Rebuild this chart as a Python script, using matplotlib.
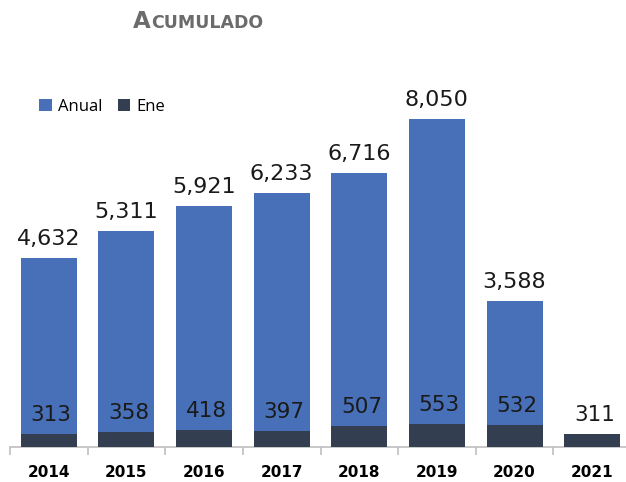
import matplotlib
matplotlib.use("Agg")
import matplotlib.pyplot as plt
import numpy as np

years = ["2014", "2015", "2016", "2017", "2018", "2019", "2020", "2021"]
anual = [4632, 5311, 5921, 6233, 6716, 8050, 3588, None]
ene = [313, 358, 418, 397, 507, 553, 532, 311]

c_anual = "#4770b8"
c_ene = "#333f50"

fig = plt.figure(figsize=(6.26, 4.82), dpi=100)
W, H = 626, 482
left, right = 10, 631
bottom_px, top_px = 447, 60
ax = fig.add_axes([left / W, (H - bottom_px) / H, (right - left) / W, (bottom_px - top_px) / H])

x = np.arange(len(years))
bw = 0.72
an_vals = [v if v is not None else 0 for v in anual]
ax.bar(x, an_vals, width=bw, color=c_anual, label="Anual", zorder=2)
ax.bar(x, ene, width=bw, color=c_ene, label="Ene", zorder=3)

for i, v in enumerate(anual):
    if v is not None:
        ax.annotate(f"{v:,}", (x[i], v), xytext=(0, 6.5), textcoords="offset points",
                    ha="center", va="bottom", fontsize=16, color="#1a1a1a")
for i, v in enumerate(ene):
    ax.annotate(f"{v:,}", (x[i] + 0.03, v), xytext=(0, 6.5), textcoords="offset points",
                ha="center", va="bottom", fontsize=15.5, color="#1a1a1a", zorder=4)

ax.set_xlim(-0.5, len(years) - 0.5)
ax.set_ylim(0, 9500)
ax.set_yticks([])
for s in ["top", "right", "left"]:
    ax.spines[s].set_visible(False)
ax.spines["bottom"].set_color("#bfbfbf")
ax.spines["bottom"].set_linewidth(1.2)
ax.set_xticks(x)
ax.set_xticklabels(years, fontweight="bold", fontsize=11)
ax.tick_params(axis="x", length=0, pad=13)
ax.set_xticks(np.arange(-0.5, len(years)), minor=True)
ax.tick_params(axis="x", which="minor", length=6, color="#bfbfbf", width=1.2)

leg = fig.legend(loc="center left", bbox_to_anchor=(24 / W, 1 - 107 / H), ncol=2,
                 frameon=False, handlelength=0.75, handleheight=0.75,
                 handletextpad=0.4, columnspacing=0.9, prop={"family": "Open Sans", "size": 12})

# Title in small caps style
tcol = "#6b6b6b"
t1 = fig.text(133 / W, 1 - 28 / H, "A", fontsize=16.5, fontweight="bold", color=tcol,
              ha="left", va="baseline")
fig.canvas.draw()
bb = t1.get_window_extent()
fig.text((bb.x1 + 0.5) / W, 1 - 28 / H, "CUMULADO", fontsize=12.5, fontweight="bold",
         color=tcol, ha="left", va="baseline")

fig.savefig("out.png", dpi=100)
